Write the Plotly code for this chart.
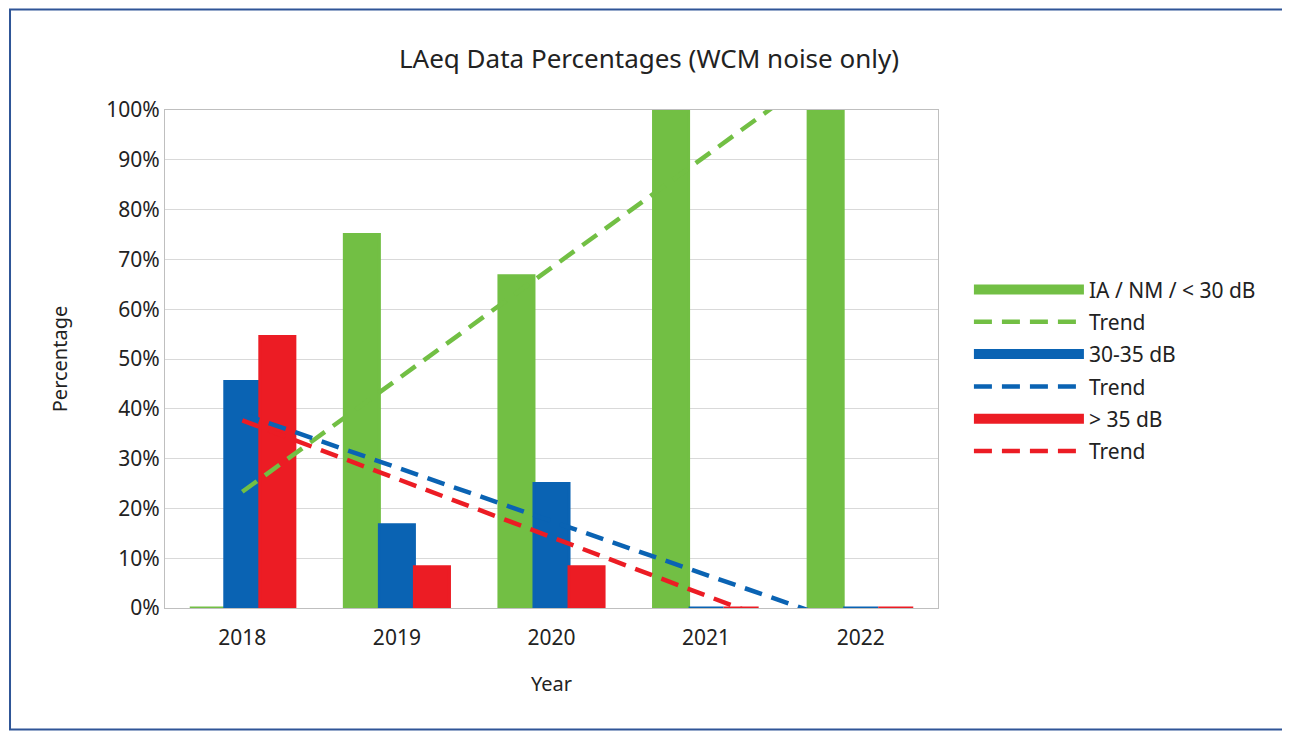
import numpy as np
import plotly.graph_objects as go

years = [2018, 2019, 2020, 2021, 2022]
below_30 = [0, 75.0, 66.7, 100.0, 100.0]
db_30_35 = [45.5, 16.7, 25.0, 0, 0]
above_35 = [54.5, 8.3, 8.3, 0, 0]

series = [
    ('IA / NM / < 30 dB', below_30, '#72bf44'),
    ('30-35 dB', db_30_35, '#0a63b3'),
    ('> 35 dB', above_35, '#ec1c24'),
]

fig = go.Figure()

x_idx = np.arange(len(years))
for i, (name, vals, color) in enumerate(series):
    fig.add_trace(go.Bar(
        x=years, y=vals, name=name, legendgroup=f'bar{i}', showlegend=False,
        marker=dict(color=color, line=dict(color=color, width=3)),
    ))
    # wide swatch for the legend, like Excel's bar legend key
    fig.add_trace(go.Scatter(
        x=[None], y=[None], mode='lines', name=name, legendgroup=f'bar{i}',
        line=dict(color=color, width=14),
    ))
    # linear trend like Excel's trendline
    slope, intercept = np.polyfit(x_idx, vals, 1)
    fig.add_trace(go.Scatter(
        x=years, y=slope * x_idx + intercept,
        mode='lines', name='Trend', legendgroup=f'trend{i}',
        line=dict(color=color, width=4.5, dash='18px,10px'),
    ))

fig.update_layout(
    width=1282, height=723,
    margin=dict(l=157, r=352, t=102, b=123),
    paper_bgcolor='white', plot_bgcolor='white',
    font=dict(family='Noto Sans, Open Sans, sans-serif', size=20, color='#222'),
    title=dict(text='LAeq Data Percentages (WCM noise only)', x=0.5, xanchor='center',
               y=0.93, yanchor='middle', font=dict(size=26)),
    barmode='group', bargap=0.32, bargroupgap=0,
    legend=dict(x=1.04, y=0.68, xanchor='left', yanchor='top', traceorder='grouped',
                font=dict(size=21), tracegroupgap=2, itemwidth=110),
    showlegend=True,
)

fig.update_xaxes(
    title=dict(text='Year', font=dict(size=20), standoff=26),
    range=[2017.5, 2022.5], tickvals=years, ticktext=[str(y) for y in years],
    showgrid=False, showline=True, linecolor='#bfbfbf', mirror=True,
    ticks='', ticklabelstandoff=11, tickfont=dict(size=21), zeroline=False,
)
fig.update_yaxes(
    title=dict(text='Percentage', font=dict(size=20), standoff=33),
    range=[0, 100], dtick=10, ticksuffix='%',
    showgrid=True, gridcolor='#d9d9d9', showline=True, linecolor='#bfbfbf', mirror=True,
    ticks='', tickfont=dict(size=21), zeroline=False,
)

# outer chart border
fig.add_shape(type='rect', xref='paper', yref='paper',
              x0=-0.2005, x1=1.453, y0=-0.244, y1=1.202,
              line=dict(color='#2f5597', width=2), fillcolor='rgba(0,0,0,0)', layer='below')

fig.write_html('out.html')
